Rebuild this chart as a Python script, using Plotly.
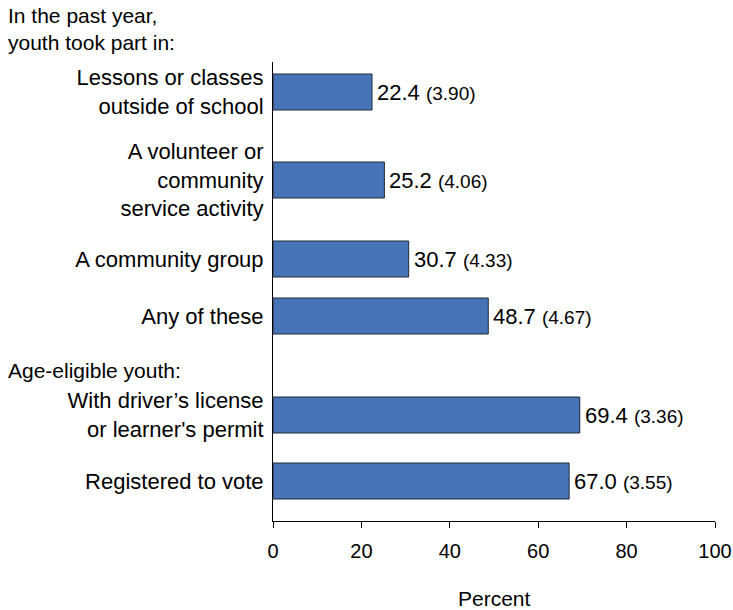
import plotly.graph_objects as go

categories = [
    "Lessons or classes<br>outside of school",
    "A volunteer or<br>community<br>service activity",
    "A community group",
    "Any of these",
    "With driver\u2019s license<br>or learner's permit",
    "Registered to vote",
]
values = [22.4, 25.2, 30.7, 48.7, 69.4, 67.0]
std_errors = ["3.90", "4.06", "4.33", "4.67", "3.36", "3.55"]
x_ticks = [0, 20, 40, 60, 80, 100]
group_headers = ["In the past year,<br>youth took part in:", "Age-eligible youth:"]

# layout: row slots (top-down) on a 0..459 axis
row_pos = [30, 118, 197, 254, 353, 419]

FONT = "Liberation Sans, Arial, sans-serif"
W, H = 733, 610
ML, MR, MT, MB = 273, 18, 62, 89
PW, PH = W - ML - MR, H - MT - MB


def px_to_paper(xpx, ypx):
    return (xpx - ML) / PW, (H - MB - ypx) / PH


fig = go.Figure()
fig.add_trace(go.Bar(
    x=values, y=row_pos, orientation="h", width=36,
    marker=dict(color="#4674B6", line=dict(color="#1E2A3A", width=1)),
    hoverinfo="skip",
))

for v, se, y in zip(values, std_errors, row_pos):
    fig.add_annotation(
        x=v, y=y, xref="x", yref="y", xanchor="left", yanchor="middle",
        xshift=3, showarrow=False,
        text=f"{v:.1f} <span style='font-size:19px'>({se})</span>",
        font=dict(family=FONT, size=22, color="#000"),
    )

for txt, ypx in zip(group_headers, [29, 370]):
    xp, yp = px_to_paper(6, ypx)
    fig.add_annotation(
        x=xp, y=yp, xref="paper", yref="paper", showarrow=False,
        text=txt, xanchor="left", yanchor="middle", align="left",
        font=dict(family=FONT, size=21, color="#000"),
    )

xp, yp = px_to_paper(494, 598)
fig.add_annotation(
    x=xp, y=yp, xref="paper", yref="paper", showarrow=False, text="Percent",
    xanchor="center", yanchor="middle",
    font=dict(family=FONT, size=21, color="#000"),
)

fig.update_layout(
    width=W, height=H,
    margin=dict(l=ML, r=MR, t=MT, b=MB, autoexpand=False),
    plot_bgcolor="white", paper_bgcolor="white",
    showlegend=False,
    font=dict(family=FONT, size=21, color="#000"),
    xaxis=dict(
        range=[0, 100], tickvals=x_ticks, ticks="outside", ticklen=6,
        tickcolor="#000", showline=True, linecolor="#000", linewidth=1,
        showgrid=False, zeroline=False, tickfont=dict(size=20),
        ticklabelstandoff=6, automargin=False,
    ),
    yaxis=dict(
        range=[459, 0], tickvals=row_pos, ticktext=categories,
        showline=True, linecolor="#000", linewidth=1, ticks="",
        showgrid=False, zeroline=False, ticklabelstandoff=4,
        tickfont=dict(size=22), automargin=False,
    ),
)

fig.write_html("out.html", config={"displayModeBar": False},
               post_script="document.body.style.margin='0';")
